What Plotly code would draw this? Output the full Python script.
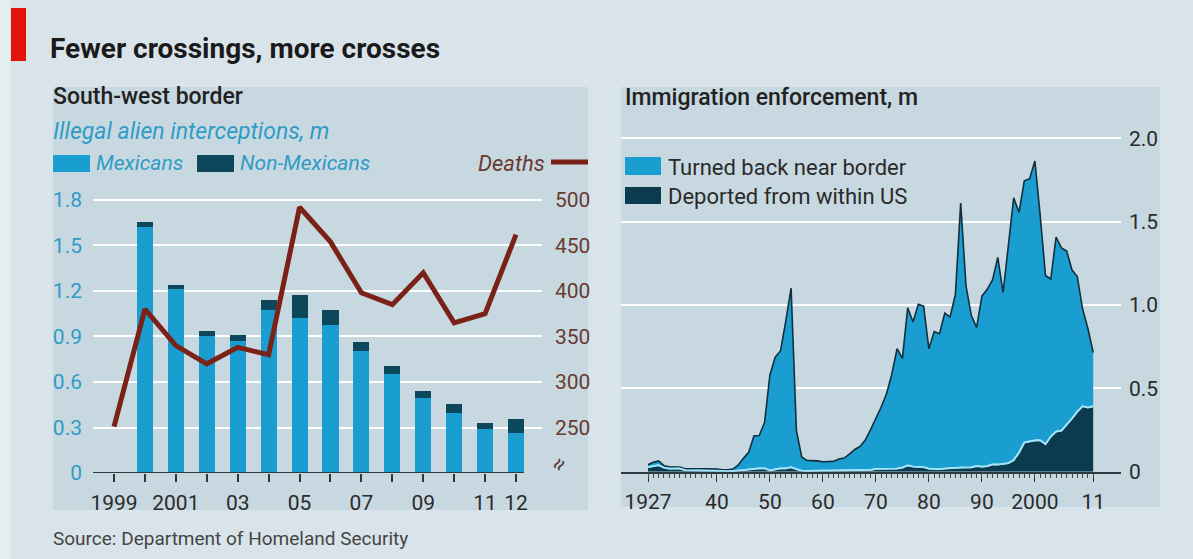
import plotly.graph_objects as go

W, H = 1193, 559

# ---------------- data: left panel ----------------
bar_years = [2000, 2001, 2002, 2003, 2004, 2005, 2006, 2007, 2008, 2009, 2010, 2011, 2012]
mexicans = [1.62, 1.21, 0.90, 0.865, 1.075, 1.02, 0.975, 0.80, 0.65, 0.49, 0.395, 0.285, 0.26]
non_mexicans = [0.03, 0.03, 0.035, 0.045, 0.065, 0.15, 0.095, 0.06, 0.055, 0.05, 0.055, 0.045, 0.095]
death_years = [1999, 2000, 2001, 2002, 2003, 2004, 2005, 2006, 2007, 2008, 2009, 2010, 2011, 2012]
deaths = [251, 380, 340, 320, 338, 330, 492, 454, 398, 385, 420, 365, 375, 462]
left_tickvals = list(range(1999, 2013))
left_ticktext = ["1999", "", "2001", "", "03", "", "05", "", "07", "", "09", "", "11", "12"]
left_y_ticks = [0, 0.3, 0.6, 0.9, 1.2, 1.5, 1.8]
left_y_text = ["0", "0.3", "0.6", "0.9", "1.2", "1.5", "1.8"]
death_ticks = [250, 300, 350, 400, 450, 500]

# ---------------- data: right panel ----------------
enf_years = list(range(1927, 2012))
deported = [
    0.027, 0.032, 0.039, 0.025, 0.018, 0.019, 0.020, 0.009, 0.008, 0.009,  # 1927-36
    0.009, 0.009, 0.008, 0.007, 0.004, 0.004, 0.004, 0.007, 0.011, 0.014,  # 1937-46
    0.019, 0.020, 0.020, 0.007, 0.014, 0.020, 0.020, 0.027, 0.015, 0.007,  # 1947-56
    0.005, 0.007, 0.008, 0.007, 0.007, 0.008, 0.007, 0.009, 0.010, 0.009,  # 1957-66
    0.009, 0.010, 0.011, 0.017, 0.018, 0.017, 0.017, 0.019, 0.024, 0.038,  # 1967-76
    0.031, 0.029, 0.027, 0.018, 0.017, 0.015, 0.019, 0.019, 0.023, 0.025,  # 1977-86
    0.024, 0.026, 0.034, 0.030, 0.033, 0.044, 0.043, 0.046, 0.051, 0.070,  # 1987-96
    0.114, 0.175, 0.183, 0.188, 0.189, 0.165, 0.211, 0.241, 0.246, 0.281,  # 1997-2006
    0.319, 0.360, 0.393, 0.385, 0.392,                                     # 2007-11
]
turned_back = [
    0.015, 0.024, 0.026, 0.011, 0.012, 0.011, 0.008, 0.008, 0.008, 0.008,  # 1927-36
    0.009, 0.009, 0.011, 0.009, 0.007, 0.007, 0.012, 0.032, 0.069, 0.102,  # 1937-46
    0.196, 0.197, 0.276, 0.573, 0.673, 0.704, 0.885, 1.074, 0.233, 0.081,  # 1947-56
    0.063, 0.061, 0.057, 0.053, 0.052, 0.054, 0.069, 0.073, 0.095, 0.124,  # 1957-66
    0.142, 0.180, 0.241, 0.303, 0.370, 0.451, 0.568, 0.719, 0.656, 0.945,  # 1967-76
    0.867, 0.976, 0.966, 0.719, 0.824, 0.813, 0.932, 0.910, 1.041, 1.586,  # 1977-86
    1.091, 0.912, 0.831, 1.023, 1.061, 1.106, 1.243, 1.029, 1.314, 1.573,  # 1987-96
    1.441, 1.570, 1.575, 1.676, 1.349, 1.012, 0.945, 1.167, 1.097, 1.043,  # 1997-2006
    0.891, 0.811, 0.583, 0.474, 0.323,                                     # 2007-11
]
right_major_ticks = [1927, 1940, 1950, 1960, 1970, 1980, 1990, 2000, 2011]
right_major_text = ["1927", "40", "50", "60", "70", "80", "90", "2000", "11"]
right_y_ticks = [0, 0.5, 1.0, 1.5, 2.0]
right_y_text = ["0", "0.5", "1.0", "1.5", "2.0"]

# ---------------- style ----------------
FONT = "Roboto"
PAGE = "#d9e4ea"
PANEL = "#c8d8e1"
MEX = "#1a9ed2"
NONMEX = "#0c475c"
DEATH = "#7a2218"
BLUE_TXT = "#2f9cc6"
BROWN_TXT = "#6a3a2e"
DARK = "#2a2a2a"
TURNED = "#1a9ed2"
DEPORT = "#0b3b4f"


def px(x):
    return x / W


def py(y):
    return 1 - y / H


fig = go.Figure()

fig.add_trace(go.Bar(x=bar_years, y=mexicans, marker_color=MEX, width=0.52,
                     marker_line_width=0, xaxis="x", yaxis="y", showlegend=False))
fig.add_trace(go.Bar(x=bar_years, y=non_mexicans, marker_color=NONMEX, width=0.52,
                     marker_line_width=0, xaxis="x", yaxis="y", showlegend=False))
fig.add_trace(go.Scatter(x=death_years, y=deaths, mode="lines",
                         line=dict(color=DEATH, width=5), xaxis="x", yaxis="y2",
                         showlegend=False))

fig.add_trace(go.Scatter(x=enf_years, y=deported, mode="lines", stackgroup="one",
                         fillcolor=DEPORT, line=dict(color="#9fe3f6", width=1.6),
                         xaxis="x3", yaxis="y3", showlegend=False))
fig.add_trace(go.Scatter(x=enf_years, y=turned_back, mode="lines", stackgroup="one",
                         fillcolor=TURNED, line=dict(color="#11303e", width=1.6),
                         xaxis="x3", yaxis="y3", showlegend=False))
fig.add_trace(go.Scatter(x=enf_years, y=deported, mode="lines",
                         line=dict(color="#a6e6f8", width=1.8),
                         xaxis="x3", yaxis="y3", showlegend=False, hoverinfo="skip"))

L_x0, L_x1 = 93, 542
L_zero, L_top = 473, 192.4
R_x0, R_x1 = 621, 1121
R_zero, R_top = 471.7, 130.0
R_range = [1927 - (648 - R_x0) / 5.3, 1927 + (R_x1 - 648) / 5.3]

tickfont = dict(family=FONT, size=21, color=DARK)

fig.update_layout(
    width=W, height=H, autosize=False,
    margin=dict(l=0, r=0, t=0, b=0, pad=0, autoexpand=False),
    paper_bgcolor="#e6edf1", plot_bgcolor="rgba(0,0,0,0)",
    barmode="stack", bargap=0, showlegend=False,
    font=dict(family=FONT, color=DARK),
    xaxis=dict(domain=[px(L_x0), px(L_x1)], range=[1998.32, 2012.84], anchor="y",
               tickvals=left_tickvals, ticktext=left_ticktext, ticks="outside",
               ticklen=8, tickwidth=1.5, tickcolor="#333", showgrid=False,
               zeroline=False, showline=False, tickfont=tickfont, automargin=False,
               ticklabelstandoff=3, fixedrange=True),
    yaxis=dict(domain=[py(L_zero), py(L_top)], range=[0, 1.85], anchor="x",
               tickvals=left_y_ticks, ticktext=left_y_text, ticks="",
               showgrid=True, gridcolor="white", gridwidth=2, zeroline=False,
               tickfont=dict(family=FONT, size=21, color=BLUE_TXT), automargin=False,
               ticklabelstandoff=10, fixedrange=True),
    yaxis2=dict(overlaying="y", side="right", anchor="x", range=[200, 508.33],
                tickvals=death_ticks, ticks="", showgrid=False, zeroline=False,
                tickfont=dict(family=FONT, size=21, color=BROWN_TXT), automargin=False,
                ticklabelstandoff=12, fixedrange=True),
    xaxis3=dict(domain=[px(R_x0), px(R_x1)], range=R_range, anchor="y3",
                tickvals=right_major_ticks, ticktext=right_major_text, ticks="outside",
                ticklen=8, tickwidth=1.3, tickcolor="#333", showgrid=False,
                zeroline=False, showline=True, linecolor="#2c3940", linewidth=2,
                tickfont=tickfont, ticklabelstandoff=2, automargin=False, fixedrange=True),
    xaxis4=dict(overlaying="x3", anchor="y3", side="bottom", range=R_range,
                tickvals=enf_years, showticklabels=False, ticks="outside", ticklen=5,
                tickwidth=1, tickcolor="#444", showgrid=False, zeroline=False,
                showline=False, automargin=False, fixedrange=True),
    yaxis3=dict(domain=[py(R_zero), py(R_top)], range=[0, 2.05], anchor="x3",
                side="right", tickvals=right_y_ticks, ticktext=right_y_text, ticks="",
                showgrid=True, gridcolor="white", gridwidth=2, zeroline=False,
                tickfont=tickfont, ticklabelstandoff=7, automargin=False, fixedrange=True),
)
fig.add_trace(go.Scatter(x=[enf_years[0]], y=[0], mode="markers", marker=dict(opacity=0),
                         xaxis="x4", yaxis="y3", showlegend=False, hoverinfo="skip"))

shapes = []
shapes.append(dict(type="rect", xref="paper", yref="paper", x0=px(10), x1=1, y0=0, y1=1,
                   fillcolor=PAGE, line_width=0, layer="below"))
shapes.append(dict(type="rect", xref="paper", yref="paper", x0=px(53), x1=px(588),
                   y0=py(510), y1=py(87), fillcolor=PANEL, line_width=0, layer="below"))
shapes.append(dict(type="rect", xref="paper", yref="paper", x0=px(621), x1=px(1160),
                   y0=py(507), y1=py(87), fillcolor=PANEL, line_width=0, layer="below"))
shapes.append(dict(type="rect", xref="paper", yref="paper", x0=px(11), x1=px(26),
                   y0=py(61), y1=py(8), fillcolor="#e3120b", line_width=0))
shapes.append(dict(type="line", xref="x", yref="y", x0=1998.32, x1=bar_years[-1] + 0.26,
                   y0=0, y1=0, line=dict(color="#2c3940", width=2)))
shapes.append(dict(type="rect", xref="paper", yref="paper", x0=px(53), x1=px(90),
                   y0=py(172), y1=py(155), fillcolor=MEX, line_width=0))
shapes.append(dict(type="rect", xref="paper", yref="paper", x0=px(197), x1=px(234),
                   y0=py(172), y1=py(155), fillcolor=NONMEX, line_width=0))
shapes.append(dict(type="line", xref="paper", yref="paper", x0=px(551), x1=px(588),
                   y0=py(162), y1=py(162), line=dict(color=DEATH, width=5)))
shapes.append(dict(type="rect", xref="paper", yref="paper", x0=px(625), x1=px(661),
                   y0=py(175), y1=py(157), fillcolor=TURNED, line_width=0))
shapes.append(dict(type="rect", xref="paper", yref="paper", x0=px(625), x1=px(661),
                   y0=py(204), y1=py(187), fillcolor=DEPORT, line_width=0))
fig.update_layout(shapes=shapes)


def text(x, y, s, size, color=DARK, italic=False, weight="normal", xanchor="left"):
    return dict(x=px(x), y=py(y), xref="paper", yref="paper", text=s, showarrow=False,
                xanchor=xanchor, yanchor="middle",
                font=dict(family=FONT, size=size, color=color,
                          style="italic" if italic else "normal", weight=weight))


ann = [
    text(48, 48, "Fewer crossings, more crosses", 28, "#1a1a1a", weight="bold"),
    text(51, 96, "South-west border", 23, "#222", weight=500),
    text(51, 131, "Illegal alien interceptions, m", 23, BLUE_TXT, italic=True),
    text(94, 163, "Mexicans", 21, BLUE_TXT, italic=True),
    text(238, 163, "Non-Mexicans", 21, BLUE_TXT, italic=True),
    text(547, 163, "Deaths", 22, BROWN_TXT, italic=True, xanchor="right"),
    text(623, 97, "Immigration enforcement, m", 23, "#222", weight=500),
    text(666, 167, "Turned back near border", 22, "#2a2a2a"),
    text(666, 196, "Deported from within US", 22, "#2a2a2a"),
    text(51, 538, "Source: Department of Homeland Security", 19, "#454545"),
    dict(x=px(558), y=py(464), xref="paper", yref="paper", text="≈", showarrow=False,
         textangle=-60, xanchor="center", yanchor="middle",
         font=dict(family=FONT, size=22, color="#5a3a30")),
]
fig.update_layout(annotations=ann)

fig.write_html(
    "out.html",
    config={"displayModeBar": False, "responsive": False},
    post_script="document.body.style.margin='0px';document.body.style.overflow='hidden';",
)
